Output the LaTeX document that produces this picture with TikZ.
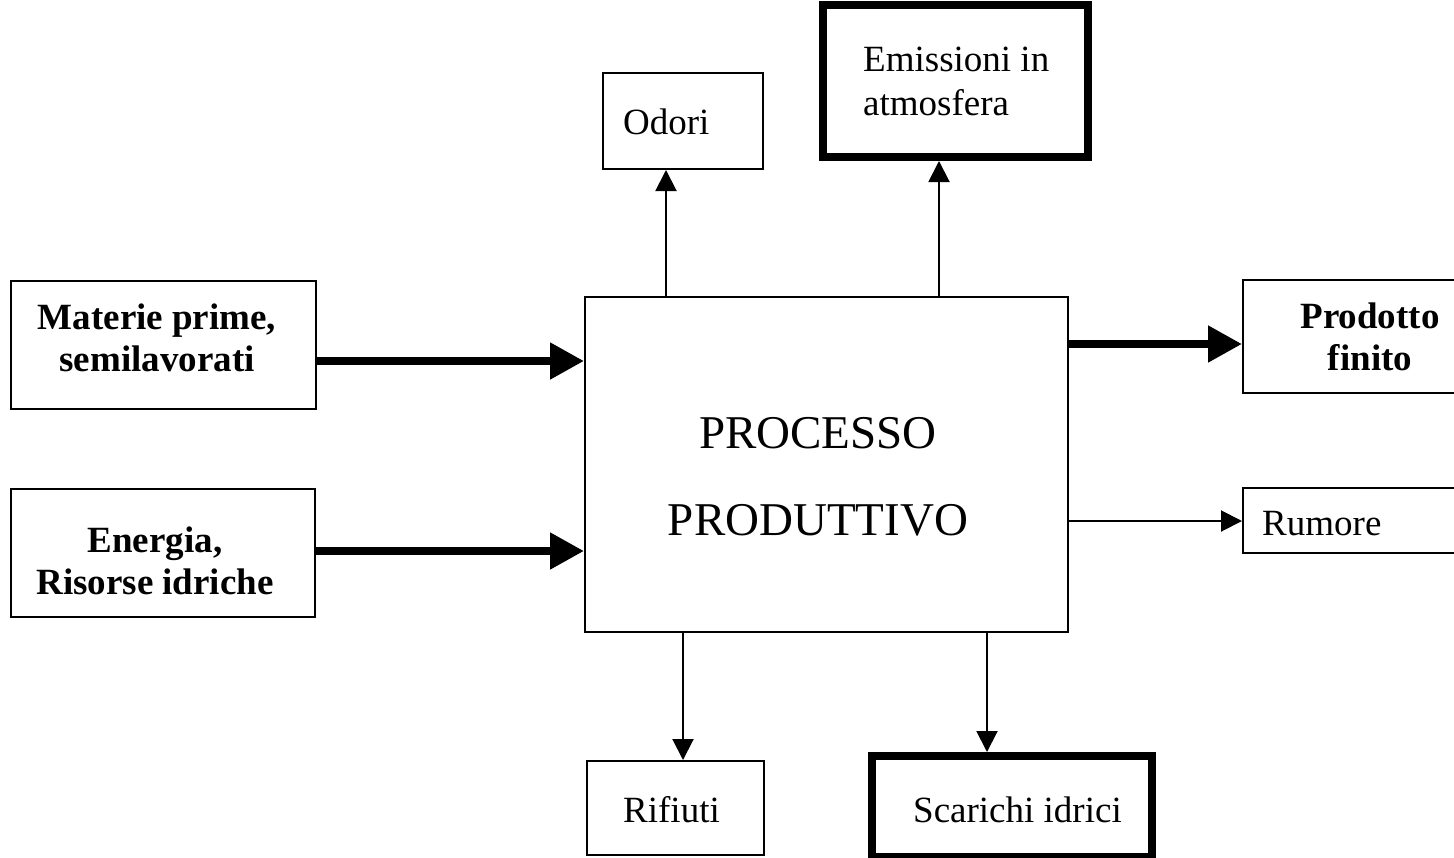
\documentclass[tikz,border=0pt]{standalone}
\usepackage{fontspec}
\setmainfont{Liberation Serif}
\usetikzlibrary{arrows.meta}
\begin{document}
\begin{tikzpicture}[x=1pt,y=-1pt,
  thinbox/.style={draw=black,line width=2pt,rectangle,inner sep=0pt},
  thickbox/.style={draw=black,line width=8pt,rectangle,inner sep=0pt},
  txt/.style={inner sep=0pt,font=\fontsize{37}{42}\selectfont},
  btxt/.style={inner sep=0pt,font=\fontsize{37}{42}\selectfont\bfseries,align=center,anchor=base},
  thinarrow/.style={line width=2pt,-{Triangle[length=21pt,width=21pt]}},
  thickarrow/.style={line width=8pt,-{Triangle[length=34pt,width=35pt]}}
]
\useasboundingbox (0,0) rectangle (1454,857);
\fill[white] (0,0) rectangle (1454,857);

% boxes (corners given as centre-line positions)
\node[thinbox,minimum width=305pt,minimum height=128pt] (materie) at (163.5,345) {};
\node[thinbox,minimum width=304pt,minimum height=128pt] (energia) at (163,553) {};
\node[thinbox,minimum width=483pt,minimum height=335pt] (main) at (826.5,464.5) {};
\node[thinbox,minimum width=160pt,minimum height=96pt] (odori) at (683,121) {};
\node[thickbox,minimum width=265pt,minimum height=152pt] (emis) at (955.5,81) {};
\node[thinbox,minimum width=254pt,minimum height=113pt] (prod) at (1370,336.5) {};
\node[thinbox,minimum width=254pt,minimum height=65pt] (rumore) at (1370,520.5) {};
\node[thinbox,minimum width=177pt,minimum height=94pt] (rifiuti) at (675.5,808) {};
\node[thickbox,minimum width=280pt,minimum height=101pt] (scarichi) at (1012,806.5) {};

% texts (base anchor = baseline of the last line)
\node[btxt] (tmaterie) at (157,371) {Materie prime,\\semilavorati};
\node[btxt] (tenergia) at (155,594) {Energia,\\Risorse idriche};
\node[btxt] (tprod) at (1370,370) {Prodotto\\finito};
\node[txt,anchor=base west,align=left,font=\fontsize{37}{44}\selectfont] (temis) at (863,115) {Emissioni in\\atmosfera};
\node[txt,anchor=base west] (todori) at (623,134) {Odori};
\node[txt,anchor=base west] (trumore) at (1262,535) {Rumore};
\node[txt,anchor=base west] (trifiuti) at (623,822) {Rifiuti};
\node[txt,anchor=base west] (tscarichi) at (913,822) {Scarichi idrici};
\node[inner sep=0pt,anchor=base,align=center,font=\fontsize{47}{87}\selectfont] (tproc) at (818,535) {PROCESSO\\PRODUTTIVO};

% connectors
\draw[thickarrow] (materie.east |- 0,361) -- (main.west |- 0,361);
\draw[thickarrow] (energia.east |- 0,551) -- (main.west |- 0,551);
\draw[thickarrow] (main.east |- 0,344) -- (prod.west |- 0,344);
\draw[thinarrow] (main.east |- 0,521) -- (rumore.west |- 0,521);
\draw[thinarrow] (main.north -| 666,0) -- (odori.south -| 666,0);
\draw[thinarrow] (main.north -| 939,0) -- (emis.south -| 939,0);
\draw[thinarrow] (main.south -| 683,0) -- (rifiuti.north -| 683,0);
\draw[thinarrow] (main.south -| 987,0) -- (scarichi.north -| 987,0);
\end{tikzpicture}
\end{document}
